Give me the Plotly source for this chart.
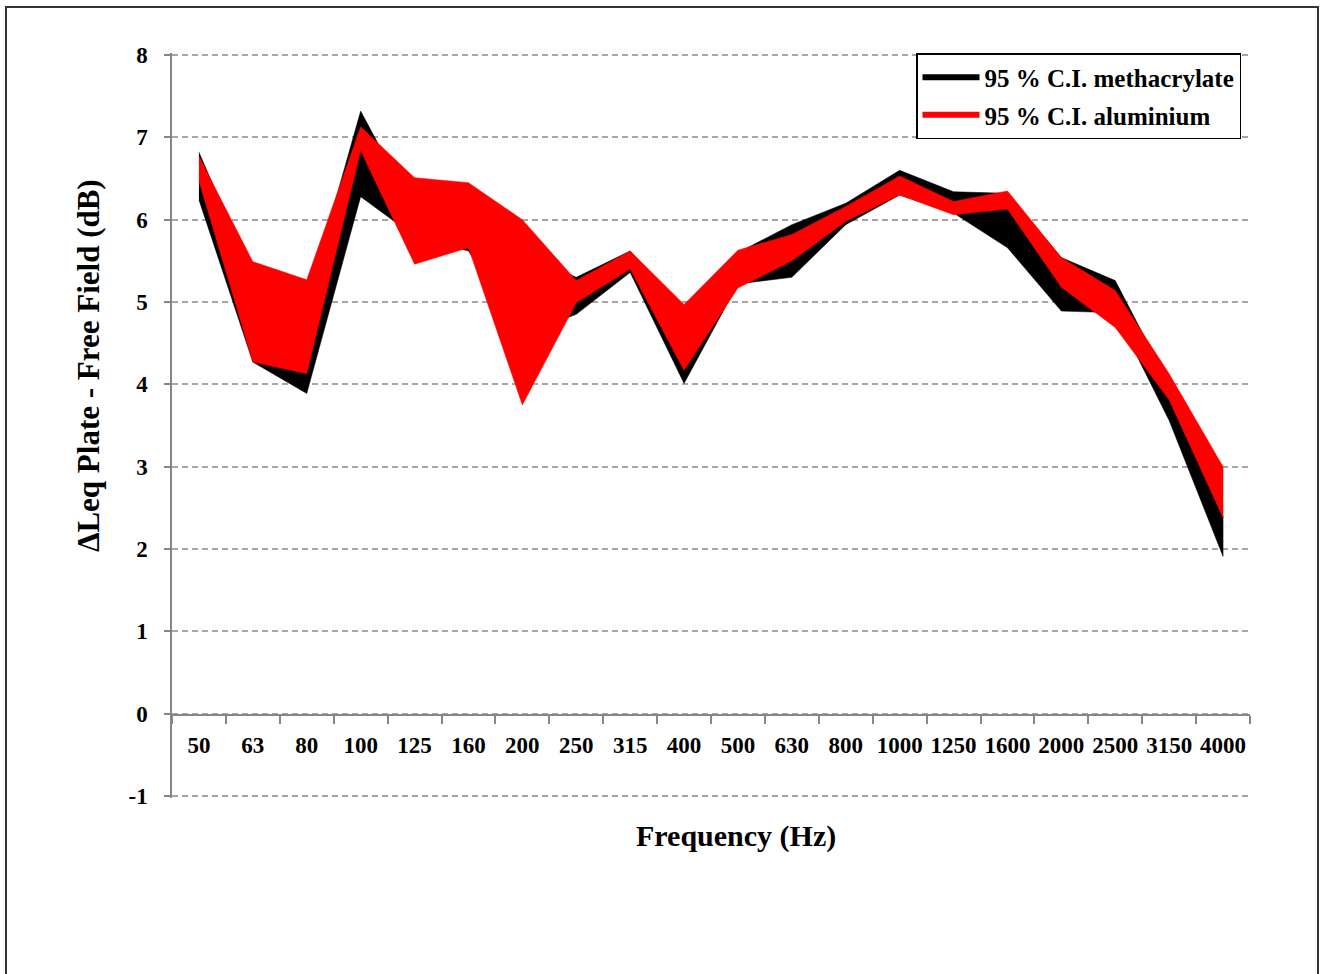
import plotly.graph_objects as go

freq = ["50", "63", "80", "100", "125", "160", "200", "250", "315", "400",
        "500", "630", "800", "1000", "1250", "1600", "2000", "2500", "3150", "4000"]

meth_upper = [6.82, 5.30, 5.00, 7.32, 6.10, 6.05, 5.60, 5.30, 5.62, 4.90,
              5.60, 5.94, 6.20, 6.60, 6.34, 6.32, 5.54, 5.26, 4.00, 2.40]
meth_lower = [6.24, 4.27, 3.89, 6.28, 5.80, 5.62, 4.60, 4.85, 5.36, 4.01,
              5.22, 5.30, 5.94, 6.30, 6.08, 5.66, 4.89, 4.87, 3.56, 1.91]

alu_upper = [6.77, 5.49, 5.27, 7.13, 6.51, 6.45, 6.00, 5.26, 5.62, 4.97,
             5.63, 5.82, 6.16, 6.53, 6.22, 6.35, 5.54, 5.14, 4.13, 3.00]
alu_lower = [6.47, 4.27, 4.13, 6.84, 5.46, 5.66, 3.75, 4.99, 5.40, 4.17,
             5.17, 5.50, 5.98, 6.30, 6.06, 6.13, 5.18, 4.69, 3.81, 2.38]

y_tickvals = [-1, 0, 1, 2, 3, 4, 5, 6, 7, 8]
y_ticktext = ["-1", "0", "1", "2", "3", "4", "5", "6", "7", "8"]

series_names = ["95 % C.I. methacrylate", "95 % C.I. aluminium"]
colors = ["#000000", "#ff0000"]

FONT = "Liberation Serif"

fig = go.Figure()

for name, up, lo, col in [(series_names[0], meth_upper, meth_lower, colors[0]),
                          (series_names[1], alu_upper, alu_lower, colors[1])]:
    fig.add_trace(go.Scatter(
        x=freq + freq[::-1],
        y=up + lo[::-1],
        fill="toself",
        fillcolor=col,
        mode="lines",
        line=dict(color=col, width=0.5),
        showlegend=False,
        hoverinfo="skip",
    ))

for i, (name, col) in enumerate(zip(series_names, colors)):
    fig.add_trace(go.Scatter(
        x=[None], y=[None], mode="lines", name=name,
        line=dict(color=col, width=6),
        legendgroup=f"g{i}",
    ))

axis_col = "#868686"

W, H = 1322, 974
L, T = 172, 53
PW, PH = 1078, 745

fig.update_layout(
    width=W, height=H,
    margin=dict(l=L, r=W - L - PW, t=T, b=H - T - PH),
    paper_bgcolor="white", plot_bgcolor="white",
    font=dict(family=FONT, size=22, color="black", weight="bold"),
    showlegend=True,
    legend=dict(
        x=(916 - 172) / PW, y=1.0, xanchor="left", yanchor="top",
        bordercolor="#000000", borderwidth=1.5, bgcolor="white",
        font=dict(family=FONT, size=25, color="black", weight="bold"),
        tracegroupgap=2, traceorder="grouped",
        itemwidth=57,
    ),
    xaxis=dict(
        type="category", categoryorder="array", categoryarray=freq,
        range=[-0.5, len(freq) - 0.5],
        anchor="free", position=1 / 9,
        showline=True, linecolor=axis_col, linewidth=1.5,
        ticks="outside", tickson="boundaries", ticklen=8, tickcolor=axis_col, tickwidth=1.5,
        showgrid=False, zeroline=False, tickangle=0,
        tickfont=dict(family=FONT, size=23, color="black", weight="bold"),
        ticklabelstandoff=9,
    ),
    yaxis=dict(
        range=[-1.025, 8.025],
        tickmode="array", tickvals=y_tickvals, ticktext=y_ticktext,
        showline=True, linecolor=axis_col, linewidth=1.5,
        ticks="outside", ticklen=6, tickcolor=axis_col, tickwidth=1.5,
        showgrid=True, gridcolor="#a6a6a6", gridwidth=1.5, griddash="6px,4px",
        zeroline=False,
        tickfont=dict(family=FONT, size=23, color="black", weight="bold"),
        ticklabelstandoff=12,
    ),
    annotations=[
        dict(text="Frequency (Hz)", xref="paper", yref="paper",
             x=(736 - 172) / PW, y=(798 - 836) / PH,
             xanchor="center", yanchor="middle", showarrow=False,
             font=dict(family=FONT, size=30, color="black", weight="bold")),
        dict(text="ΔLeq Plate - Free Field (dB)", xref="paper", yref="paper",
             x=(88 - 172) / PW, y=(798 - 366) / PH, textangle=-90,
             xanchor="center", yanchor="middle", showarrow=False,
             font=dict(family=FONT, size=31, color="black", weight="bold")),
    ],
    shapes=[
        dict(type="rect", xref="paper", yref="paper",
             x0=(6 - 172) / PW, x1=(1318 - 172) / PW,
             y0=(798 - 990) / PH, y1=(798 - 7) / PH,
             line=dict(color="#333333", width=2), fillcolor="rgba(0,0,0,0)",
             layer="above"),
    ],
)

fig.write_html(
    "out.html",
    config={"displayModeBar": False},
    post_script="document.body.style.margin='0px';document.body.style.overflow='hidden';",
)
